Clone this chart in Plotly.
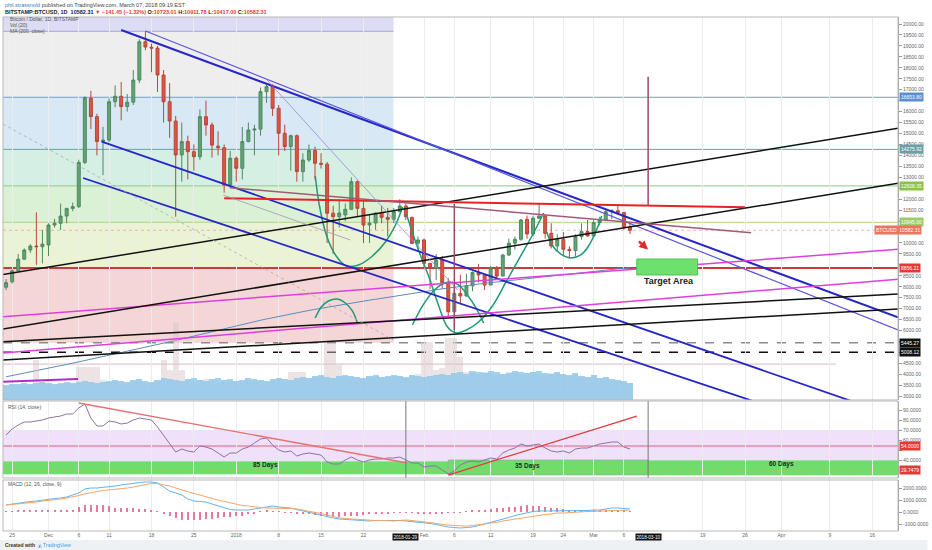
import pandas as pd
import plotly.graph_objects as go

# daily candles, Bitstamp BTC/USD
DATES = pd.date_range("2017-11-24", "2018-03-07", freq="D")

OPEN = [7980, 8230, 8730, 9260, 9680, 9860, 9830, 9910, 10820, 10900, 11230, 11580, 11660, 13680,
        16610, 15770, 14630, 14700, 16450, 16700, 16230, 16430, 17440, 19190, 18940, 18900, 17670,
        16450, 15570, 14020, 14630, 14170, 13940, 15770, 15390, 14420, 14350, 12650, 13870, 13410,
        14630, 15160, 15200, 16910, 17140, 16150, 15010, 14400, 14900, 13260, 13790, 14220, 13640,
        13600, 11360, 11200, 11280, 11540, 12800, 11580, 10820, 10910, 11390, 11170, 11080, 11430,
        11690, 11170, 9985, 10140, 9070, 8840, 9220, 8190, 6860, 7700, 7580, 8040, 8650, 8540, 8080,
        8840, 8490, 9450, 9990, 10170, 11080, 10410, 11130, 11230, 10440, 9860, 10170, 9710, 9650,
        10290, 10520, 10320, 10930, 11050, 11430, 11470, 11390, 10723.01]
HIGH = [8350, 8800, 9500, 9750, 9950, 11400, 10600, 10900, 11100, 11800, 11600, 11850, 13800, 16700,
        16950, 15900, 15300, 16600, 17200, 17350, 16800, 17900, 19300, 19666, 19100, 19000, 17900,
        17300, 15800, 15500, 14900, 14500, 16100, 16500, 15500, 15100, 14500, 14200, 13950, 15300,
        15500, 15400, 17100, 17250, 17250, 16300, 15400, 14950, 14950, 14100, 14500, 14400, 14100,
        13700, 11700, 12000, 11800, 13000, 12850, 11900, 11300, 11400, 11700, 11600, 11600, 12000,
        11800, 11200, 10300, 10200, 9100, 9500, 9400, 8400, 7900, 8550, 8600, 8700, 9050, 8550, 8950,
        8950, 9500, 10200, 10300, 11100, 11250, 11250, 11800, 11300, 10900, 10400, 10500, 9850, 10400,
        10900, 11050, 11050, 11200, 11500, 11550, 11700, 11420, 10911.78]
LOW = [7850, 8150, 8700, 9250, 9550, 9000, 9070, 9400, 10700, 10600, 10900, 11450, 11600, 13600,
       15200, 14000, 13100, 14600, 16200, 15600, 16000, 16300, 17300, 18800, 17800, 16900, 15500,
       14800, 11200, 12800, 12900, 13300, 13800, 14900, 13900, 14000, 12300, 12500, 12800, 12900,
       14600, 14000, 14900, 16400, 15800, 14000, 14200, 13300, 12800, 12800, 13700, 12900, 13400,
       10000, 9500, 10700, 11000, 11500, 11200, 10000, 10000, 10600, 10900, 10300, 10900, 11400,
       11050, 9950, 9700, 8800, 7900, 8300, 7900, 6650, 5900, 7200, 7550, 7800, 8200, 7850, 8080,
       8350, 8490, 9400, 9700, 10100, 10200, 10300, 11100, 10200, 9750, 9600, 9400, 9300, 9400,
       10150, 10300, 10250, 10800, 11000, 11100, 11350, 10600, 10417.00]
CLOSE = [8190, 8730, 9260, 9680, 9860, 9830, 9950, 10820, 10900, 11230, 11580, 11660, 13680, 16630,
         15770, 14630, 14700, 16450, 16700, 16230, 16430, 17440, 19190, 18950, 18900, 17670, 16450,
         15570, 14020, 14630, 14170, 13940, 15770, 15390, 14470, 14350, 12650, 13870, 13410, 14630,
         15160, 15200, 16910, 17140, 16150, 15010, 14400, 14900, 13260, 13790, 14220, 13640, 13600,
         11360, 11200, 11370, 11540, 12800, 11580, 10820, 10910, 11360, 11170, 11080, 11430, 11690,
         11200, 9985, 10140, 9070, 8840, 9220, 8190, 6860, 7700, 7580, 8040, 8650, 8540, 8080, 8840,
         8490, 9450, 9990, 10170, 11050, 10410, 11130, 11230, 10440, 9860, 10170, 9710, 9650, 10290,
         10520, 10320, 10930, 11050, 11430, 11470, 11390, 10723, 10582.31]

# volume (thousand BTC) and its 20-day average
VOLUME = [14, 15, 15, 16, 15, 40, 18, 16, 15, 16, 17, 17, 33, 33, 33, 33,
          20, 18, 19, 18, 17, 19, 20, 18, 17, 19, 40, 30, 77, 30, 20, 18, 20, 21, 19, 18, 20, 19, 18,
          19, 21, 20, 19, 18, 20, 21, 20, 28, 28,
          28, 22, 23, 24, 57, 57, 35, 24, 23, 22, 21, 23, 24, 22, 23, 24, 23, 22, 24, 26, 58, 58, 30,
          32, 62,
          62, 43, 28, 27, 26, 28, 27, 25, 26, 28, 27, 26, 27, 28, 26, 25, 27, 26,
          25, 24, 26, 23, 22, 24, 21, 22, 20, 19, 18, 17]
VOLUME_MA = [15, 16, 16, 17, 16, 17, 18, 17, 16, 17, 18, 17, 18, 19, 18, 17,
             18, 19, 20, 19, 18, 20, 21, 19, 18, 20, 22, 21, 20, 19, 21, 22, 20, 19, 21, 22, 20, 21,
             19, 20, 22, 21, 20, 19, 21, 22, 21, 20, 22,
             23, 22, 24, 25, 23, 22, 24, 25, 24, 23, 22, 24, 25, 23, 24, 25, 24, 23, 25, 24, 23, 24,
             25, 26, 25,
             27, 28, 26, 29, 28, 27, 29, 28, 26, 27, 29, 28, 27, 28, 29, 27, 26, 28,
             26, 25, 27, 24, 23, 25, 22, 23, 21, 20, 19, 17]

MA200 = [3890, 3950, 4000, 4060, 4110, 4170, 4230, 4290, 4340, 4400, 4450, 4510, 4560, 4620, 4680,
         4740, 4800, 4860, 4920, 4980, 5040, 5100, 5160, 5220, 5290, 5350, 5420, 5480, 5550, 5620,
         5680, 5750, 5820, 5880, 5950, 6010, 6080, 6150, 6210, 6280, 6340, 6410, 6470, 6530, 6590,
         6650, 6710, 6770, 6820, 6870, 6920, 6970, 7020, 7070, 7120, 7160, 7210, 7250, 7300, 7340,
         7390, 7430, 7470, 7520, 7560, 7600, 7650, 7690, 7740, 7780, 7820, 7870, 7910, 7950, 7990,
         8020, 8060, 8090, 8120, 8160, 8190, 8220, 8260, 8290, 8320, 8360, 8390, 8420, 8460, 8490,
         8520, 8550, 8580, 8600, 8630, 8660, 8680, 8710, 8740, 8770, 8790, 8820, 8840, 8870]

RSI = [65, 71, 75, 78, 78, 79, 80, 82, 83, 84, 86, 86, 92, 96, 82, 74, 74, 79, 78, 76, 77, 80, 82,
       81, 80, 73, 65, 57, 48, 51, 49, 48, 54, 53, 51, 47, 43, 47, 47, 51, 53, 57, 61, 62, 55, 50,
       48, 49, 44, 46, 47, 46, 45, 38, 36, 36, 40, 43, 40, 38, 40, 41, 41, 42, 42, 43, 40, 37, 37,
       33, 34, 34, 30, 26, 29, 35, 38, 39, 38, 40, 42, 41, 47, 50, 52, 56, 54, 55, 56, 52, 49, 48,
       49, 47, 51, 52, 52, 54, 56, 57, 58, 58, 53, 51]

MACD = [583, 667, 750, 833, 875, 917, 1000, 1083, 1125, 1167, 1250, 1417, 1583, 1917, 2000, 2000,
        2042, 2083, 2167, 2250, 2333, 2417, 2458, 2500, 2500, 2417, 2083, 1750, 1583, 1417, 1083,
        917, 875, 833, 667, 500, 333, 208, 167, 167, 167, 250, 333, 417, 500, 417, 375, 333, 208,
        83, -42, -167, -292, -417, -500, -583, -625, -667, -708, -750, -750, -708, -708, -667, -667,
        -708, -750, -792, -833, -875, -958, -1042, -1167, -1250, -1292, -1333, -1292, -1250, -1125,
        -1000, -875, -750, -625, -458, -292, -167, -42, 42, 83, 83, 83, 83, 83, 83, 83, 83, 125, 167,
        167, 250, 333, 333, 292, 250]
SIGNAL = [583, 625, 667, 708, 792, 833, 917, 958, 1000, 1083, 1167, 1250, 1375, 1500, 1625, 1708,
          1792, 1833, 1917, 1958, 2000, 2083, 2167, 2292, 2375, 2375, 2292, 2167, 2000, 1833, 1667,
          1542, 1417, 1250, 1125, 1000, 875, 750, 625, 542, 500, 417, 375, 333, 333, 333, 333, 292,
          250, 167, 83, 0, -125, -250, -375, -500, -542, -583, -625, -667, -667, -708, -708, -750,
          -750, -708, -667, -708, -750, -833, -875, -958, -1042, -1083, -1125, -1167, -1167, -1125,
          -1083, -1000, -917, -875, -750, -667, -583, -500, -417, -333, -250, -208, -167, -83, -83,
          -42, -42, 0, 42, 42, 83, 83, 125, 125, 167, 167]
HIST = [50, 80, 100, 120, 120, 130, 150, 150, 150, 160, 180, 200,
        450, 550, 600, 600, 550, 500,
        350, 300, 300, 300, 280, 250, 200,
        50, -100,
        -300, -500, -650, -700, -700, -650, -600, -550,
        -500, -450, -400, -350, -300, -200, -100,
        50, 100, 80, 40, -20,
        -60, -100, -150, -200, -250,
        -300, -350, -380, -380, -350, -320, -300,
        -250, -200, -150, -120, -100, -80,
        -60, -60, -80, -100, -100, -120, -120, -100, -80,
        -50, -20, 40, 100, 150, 200, 250, 300,
        350, 400, 450, 500, 550, 520, 500, 450,
        350, 300, 250, 200, 200, 180, 150, 150,
        150, 160, 170, 150, 120, 80]

for series in (OPEN, HIGH, LOW, CLOSE, VOLUME, VOLUME_MA, MA200, RSI, MACD, SIGNAL, HIST):
    assert len(series) == len(DATES), len(series)

# axis ranges and ticks
X_RANGE = ["2017-11-23 11:45", "2018-04-20 06:00"]
PRICE_RANGE = [2831, 20320]
VOL_RANGE = [0, 383]
RSI_RANGE = [22, 99]
MACD_RANGE = [-1583, 2667]
PRICE_TICKS = list(range(3000, 20001, 500))
PRICE_TICKS_HIDDEN = [5000, 5500, 9000, 10500, 11000, 12500, 16500]  # covered by marker boxes
RSI_TICKS = [40, 50, 60, 70, 80, 90]
RSI_TICKS_HIDDEN = [50]
MACD_TICKS = [-1000, 0, 1000, 2000]
DATE_TICKS = ["2017-11-25", "2017-12-01", "2017-12-06", "2017-12-11", "2017-12-18", "2017-12-25",
              "2018-01-01", "2018-01-08", "2018-01-15", "2018-01-22", "2018-02-01", "2018-02-06",
              "2018-02-12", "2018-02-19", "2018-02-24", "2018-03-01", "2018-03-06", "2018-03-19",
              "2018-03-26", "2018-04-01", "2018-04-09", "2018-04-16"]
DATE_LABELS = ["25", "Dec", "6", "11", "18", "25", "2018", "8", "15", "22", "Feb", "6", "12", "19",
               "24", "Mar", "6", "19", "26", "Apr", "9", "16"]
MARKED_DATES = ["2018-01-29", "2018-03-10"]

# fibonacci retracement (left block) and price levels
FIB_END = "2018-01-26 23:00"
FIB_LEVELS = [20320, 19666, 16653.80, 14275.92, 12608.35, 10945.00, 8856.21, 5445.27]
LEVELS = [16653.80, 14275.92, 12608.35, 10945.00, 8856.21]
DASHED_LEVELS = [5445.27, 5008.12]
LAST_PRICE = 10582.31
LOW_RULE = (4470, "2018-04-10")

# hand-drawn trend lines: (x0, y0, x1, y1)
TREND_LINES = {
    "channel_top_a": ("2017-12-13", 19726, "2018-04-20 06:00", 6603),
    "channel_top_b": ("2017-12-17", 19680, "2018-04-20 06:00", 6027),
    "channel_low_c": ("2017-12-09 19:00", 14626, "2018-04-13", 2740),
    "channel_low_d": ("2017-12-06 17:00", 12968, "2018-03-27 19:00", 2740),
    "pink_e": ("2017-11-23 11:45", 6635, "2018-04-20 06:00", 9712),
    "pink_f": ("2017-11-23 11:45", 4977, "2018-04-20 06:00", 8342),
    "pink_g": ("2017-11-23 11:45", 3667, "2017-12-05 21:00", 3790),
    "black_h": ("2017-11-23 11:45", 8562, "2018-04-20 06:00", 15237),
    "black_i": ("2017-11-23 11:45", 6073, "2018-04-20 06:00", 12726),
    "black_j": ("2017-11-23 11:45", 5493, "2018-04-20 06:00", 7671),
    "black_k": ("2017-11-23 11:45", 4658, "2018-04-20 06:00", 6986),
    "resistance": ("2017-12-30", 12041, "2018-03-26", 11630),
    "mauve": ("2017-12-31", 12525, "2018-03-27", 10470),
    "thin_purple": ("2018-01-06 02:00", 17443, "2018-02-06 13:00", 7854),
    "thin_gray": ("2017-12-29 20:00", 12192, "2018-01-19 20:00", 10137),
    "dotted_gray": ("2017-11-23 11:45", 15434, "2018-01-26 23:00", 5571),
    "vert_feb": ("2018-02-06", 11781, "2018-02-06", 6027),
    "vert_mar": ("2018-03-10", 17594, "2018-03-10", 11703),
}
LINE_STYLE = {
    "channel_top_a": ("#2626c9", 2, "solid"),
    "channel_top_b": ("#5b55dd", 1.2, "solid"),
    "channel_low_c": ("#2626c9", 1.8, "solid"),
    "channel_low_d": ("#2626c9", 1.8, "solid"),
    "pink_e": ("#e03ee0", 1.5, "solid"),
    "pink_f": ("#e03ee0", 1.5, "solid"),
    "pink_g": ("#b02ad0", 2, "solid"),
    "black_h": ("#111111", 1.5, "solid"),
    "black_i": ("#111111", 1.5, "solid"),
    "black_j": ("#111111", 1.5, "solid"),
    "black_k": ("#111111", 1.5, "solid"),
    "resistance": ("#e82222", 2, "solid"),
    "mauve": ("#a3587a", 1.5, "solid"),
    "thin_purple": ("#9a86dc", 0.8, "solid"),
    "thin_gray": ("#a393b8", 0.8, "solid"),
    "dotted_gray": ("#aaaaaa", 0.8, "dot"),
    "vert_feb": ("#9b4a6a", 1.5, "solid"),
    "vert_mar": ("#9b4a6a", 1.5, "solid"),
}

# cup / cap curves
ARCS = {
    "a": (["2018-01-14 01:00", "2018-01-14 17:00", "2018-01-15 21:00", "2018-01-17 09:00",
           "2018-01-19 04:00", "2018-01-21 04:00", "2018-01-23 07:00", "2018-01-25 15:00",
           "2018-01-27 07:00", "2018-01-28 11:00"],
          [13059, 11735, 10366, 9453, 8950, 8996, 9361, 10046, 10822, 11644]),
    "b": (["2018-01-29 02:00", "2018-01-31 02:00", "2018-02-01 18:00", "2018-02-03 09:00",
           "2018-02-04 21:00", "2018-02-06 09:00", "2018-02-08 00:00", "2018-02-10 00:00",
           "2018-02-12 07:00", "2018-02-14 15:00", "2018-02-16 23:00", "2018-02-19 02:00",
           "2018-02-20 18:00"],
          [11325, 9681, 8494, 7169, 6165, 5891, 6028, 6393, 7124, 8265, 9407, 10457, 11370]),
    "c": (["2018-01-30 02:00", "2018-01-31 18:00", "2018-02-02 10:00", "2018-02-04 01:00",
           "2018-02-05 09:00", "2018-02-06 17:00", "2018-02-08 04:00", "2018-02-09 16:00",
           "2018-02-10 20:00"],
          [6256, 7124, 7763, 8128, 8220, 8083, 7626, 6987, 6348]),
    "d": (["2018-01-14 01:00", "2018-01-15 01:00", "2018-01-16 05:00", "2018-01-17 17:00",
           "2018-01-19 00:00", "2018-01-20 04:00", "2018-01-21 00:00"],
          [6576, 7078, 7352, 7443, 7261, 6896, 6348]),
    "e": (["2018-02-21 06:00", "2018-02-22 06:00", "2018-02-23 13:00", "2018-02-25 05:00",
           "2018-02-26 21:00", "2018-02-28 04:00", "2018-03-01 08:00", "2018-03-02 08:00"],
          [10503, 9863, 9498, 9316, 9453, 9863, 10503, 11233]),
}

TARGET_BOX = ("2018-03-08 03:00", 8539, "2018-03-18 04:00", 9269)
TARGET_TEXT = ("2018-03-13 10:00", 8265, "Target Area")
ARROW = ("2018-03-08 05:30", 10137, "2018-03-09 23:30", 9699)

# RSI drawings
RSI_BAND = (30, 70)
RSI_LEVEL = 54
RSI_LOW_MARK = 29.7479
RSI_TRENDS = [("2017-12-06", 97, "2018-01-29 06:00", 37),
              ("2018-02-05", 25, "2018-03-08 03:00", 84)]
RSI_BOXES = [("2017-11-23 11:45", "2018-02-05", 26, 38.3),
             ("2018-02-05", "2018-03-10", 25, 40),
             ("2018-03-10", "2018-04-20 06:00", 25, 39.3)]
RSI_BOX_TEXT = [("2018-01-05 19:00", 34.7, "85 Days"),
                ("2018-02-18 02:00", 34, "35 Days"),
                ("2018-04-01 02:00", 35.7, "60 Days")]

FONT = "Liberation Sans, Arial, sans-serif"
RED = "#e53935"

fig = go.Figure()

fig.add_trace(go.Bar(x=DATES, y=VOLUME, xaxis="x", yaxis="y4", width=86400000,
                     marker=dict(color="#d6c3c6", line=dict(width=0)), opacity=0.45))
fig.add_trace(go.Bar(x=DATES, y=VOLUME_MA, xaxis="x", yaxis="y4", width=86400000,
                     marker=dict(color="#8cc7ea", line=dict(width=0)), opacity=0.8))
fig.add_trace(go.Scatter(x=DATES, y=MA200, mode="lines", line=dict(color="#5a8dba", width=1)))
fig.add_trace(go.Candlestick(
    x=DATES, open=OPEN, high=HIGH, low=LOW, close=CLOSE, whiskerwidth=0,
    increasing=dict(line=dict(color="#4e8a5f", width=1), fillcolor="#62a374"),
    decreasing=dict(line=dict(color="#b9473a", width=1), fillcolor="#e0533f"),
))
for xs, ys in ARCS.values():
    fig.add_trace(go.Scatter(x=xs, y=ys, mode="lines",
                             line=dict(color="#1e9a78", width=1.5, shape="spline")))

fig.add_trace(go.Scatter(x=DATES, y=RSI, mode="lines", xaxis="x2", yaxis="y2",
                         line=dict(color="#8a72a6", width=1)))
fig.add_trace(go.Bar(x=DATES, y=HIST, xaxis="x3", yaxis="y3", width=86400000 * 0.18,
                     marker=dict(color="#e8779d", line=dict(width=0))))
fig.add_trace(go.Scatter(x=DATES, y=MACD, mode="lines", xaxis="x3", yaxis="y3",
                         line=dict(color="#62b4ee", width=1)))
fig.add_trace(go.Scatter(x=DATES, y=SIGNAL, mode="lines", xaxis="x3", yaxis="y3",
                         line=dict(color="#f3a56a", width=1)))

shapes = []

# fib zone fills
zone_colors = ["#dcdcf4", "#eeeeee", "#d8e8f5", "#d6efe4", "#dbf1d6", "#eaf4d4", "#f5d6d6"]
for i, col in enumerate(zone_colors):
    shapes.append(dict(type="rect", xref="x", yref="y", x0=X_RANGE[0], x1=FIB_END,
                       y0=FIB_LEVELS[i + 1], y1=FIB_LEVELS[i], fillcolor=col,
                       line=dict(width=0), layer="below"))
shapes.append(dict(type="line", xref="x", yref="y", x0=X_RANGE[0], x1=FIB_END,
                   y0=FIB_LEVELS[1], y1=FIB_LEVELS[1], line=dict(color="#a3a3d9", width=1),
                   layer="below"))
level_colors = ["#6f9fd0", "#6aa0a3", "#8cc88c", "#b2d27f", "#cc3b3b"]
level_widths = [1, 1, 1, 1, 2]
for lv, col, w in zip(LEVELS, level_colors, level_widths):
    shapes.append(dict(type="line", xref="x", yref="y", x0=X_RANGE[0], x1=X_RANGE[1],
                       y0=lv, y1=lv, line=dict(color=col, width=w), layer="below"))
for lv, col in zip(DASHED_LEVELS, ["#8c8c8c", "#111111"]):
    shapes.append(dict(type="line", xref="x", yref="y", x0=X_RANGE[0], x1=X_RANGE[1],
                       y0=lv, y1=lv, line=dict(color=col, width=1.5, dash="dash"), layer="below"))
shapes.append(dict(type="line", xref="x", yref="y", x0=X_RANGE[0], x1=X_RANGE[1],
                   y0=LAST_PRICE, y1=LAST_PRICE, line=dict(color="#f2a0a0", width=0.8, dash="dot"),
                   layer="below"))
shapes.append(dict(type="line", xref="x", yref="y", x0=X_RANGE[0], x1=LOW_RULE[1],
                   y0=LOW_RULE[0], y1=LOW_RULE[0], line=dict(color="#d9a3ab", width=0.8),
                   layer="below"))

for name, (x0, y0, x1, y1) in TREND_LINES.items():
    col, w, dash = LINE_STYLE[name]
    shapes.append(dict(type="line", xref="x", yref="y", x0=x0, y0=y0, x1=x1, y1=y1,
                       line=dict(color=col, width=w, dash=dash), layer="above"))

tx0, ty0, tx1, ty1 = TARGET_BOX
shapes.append(dict(type="rect", xref="x", yref="y", x0=tx0, x1=tx1, y0=ty0, y1=ty1,
                   fillcolor="#6ee06e", line=dict(color="#52c052", width=1), layer="above"))

# RSI pane
shapes.append(dict(type="rect", xref="x2", yref="y2", x0=X_RANGE[0], x1=X_RANGE[1],
                   y0=RSI_BAND[0], y1=RSI_BAND[1], fillcolor="#efe1fa", line=dict(width=0),
                   layer="below"))
for i, (x0, x1, y0, y1) in enumerate(RSI_BOXES):
    shapes.append(dict(type="rect", xref="x2", yref="y2", x0=x0, x1=x1, y0=y0, y1=y1,
                       fillcolor="#6edd6e",
                       line=dict(color="#9a9a9a" if i == 1 else "#6edd6e", width=0.6),
                       layer="below"))
shapes.append(dict(type="line", xref="x2", yref="y2", x0=X_RANGE[0], x1=X_RANGE[1],
                   y0=RSI_LOW_MARK, y1=RSI_LOW_MARK,
                   line=dict(color="#b3c93a", width=1, dash="dot"), layer="below"))
shapes.append(dict(type="line", xref="x2", yref="y2", x0=X_RANGE[0], x1=X_RANGE[1],
                   y0=RSI_LEVEL, y1=RSI_LEVEL, line=dict(color="#e0607a", width=1), layer="below"))
for (x0, y0, x1, y1), col in zip(RSI_TRENDS, ["#ea7070", "#e43a3a"]):
    shapes.append(dict(type="line", xref="x2", yref="y2", x0=x0, y0=y0, x1=x1, y1=y1,
                       line=dict(color=col, width=1.3), layer="above"))
for d in MARKED_DATES:
    shapes.append(dict(type="line", xref="x2", yref="y2 domain", x0=d, x1=d, y0=0, y1=1,
                       line=dict(color="#777777", width=1), layer="above"))

# pane frames and footer band
for yd in ["y domain", "y2 domain", "y3 domain"]:
    shapes.append(dict(type="rect", xref="paper", yref=yd, x0=0, x1=1, y0=0, y1=1,
                       line=dict(color="#b8b8b8", width=1), layer="above"))
shapes.append(dict(type="rect", xref="paper", yref="paper", x0=-0.004, x1=1.033,
                   y0=-0.037, y1=-0.0175, fillcolor="#eef1f4", line=dict(width=0), layer="below"))

annotations = []


def label(x, y, text, size=5, color="#555", xref="paper", yref="paper", **kw):
    annotations.append(dict(x=x, y=y, xref=xref, yref=yref, text=text, showarrow=False,
                            font=dict(family=FONT, size=size, color=color), **kw))


label(0, 1.0243,
      "<span style='color:#3b82c4'>phil.strassnold</span> published on TradingView.com, "
      "March 07, 2018 09:19 EST", size=5.5, color="#444", xanchor="left", yanchor="middle")
label(0, 1.0107,
      "<b>BITSTAMP:BTCUSD, 1D  10582.31 <span style='color:%s'>▼ −141.45 (−1.32%%)</span> "
      "O:<span style='color:%s'>10723.01</span> H:<span style='color:%s'>10911.78</span> "
      "L:<span style='color:%s'>10417.00</span> C:<span style='color:%s'>10582.31</span></b>"
      % (RED, RED, RED, RED, RED), size=5.5, color="#222", xanchor="left", yanchor="middle")
label(0.006, 0.9961, "Bitcoin / Dollar, 1D, BITSTAMP", xanchor="left", yanchor="middle")
label(0.006, 0.9846, "Vol (20)", xanchor="left", yanchor="middle")
label(0.006, 0.9735, "MA (200, close)", xanchor="left", yanchor="middle")
label(0.003, 0.2412, "RSI (14, close)", xanchor="left", yanchor="middle")
label(0.003, 0.0914, "MACD (12, 26, close, 9)", xanchor="left", yanchor="middle")
label(0, -0.0272, "<b>Created with</b>  <span style='color:#3aa0e6'>◭ TradingView</span>",
      color="#333", xanchor="left", yanchor="middle")

# price-axis marker boxes
box_colors = ["#5d8fcf", "#6a9fa3", "#8bc34a", "#9ccc65", RED]
for lv, col in zip(LEVELS, box_colors):
    label(1, lv, "%.2f" % lv, size=5, color="white", yref="y", xanchor="left", xshift=1,
          yanchor="middle", bgcolor=col, borderpad=1)
for lv in DASHED_LEVELS:
    label(1, lv, "%.2f" % lv, size=5, color="white", yref="y", xanchor="left", xshift=1,
          yanchor="middle", bgcolor="#111111", borderpad=1)
label(1, LAST_PRICE, "BTCUSD  %.2f" % LAST_PRICE, size=5, color="white", yref="y",
      xanchor="center", xshift=0, yanchor="middle", bgcolor="#ea7560", borderpad=1)
label(1, RSI_LEVEL, "%.4f" % RSI_LEVEL, size=5, color="white", yref="y2", xanchor="left",
      xshift=1, yanchor="middle", bgcolor=RED, borderpad=1)
label(1, RSI_LOW_MARK, "%.4f" % RSI_LOW_MARK, size=5, color="white", yref="y2",
      xanchor="left", xshift=1, yanchor="middle", bgcolor=RED, borderpad=1)

for d in MARKED_DATES:
    label(d, -0.0117, d, size=4.6, color="white", xref="x", yanchor="middle",
          bgcolor="#111111", borderpad=0.5)

label(TARGET_TEXT[0], TARGET_TEXT[1], "<b>%s</b>" % TARGET_TEXT[2], size=9, color="#222",
      xref="x", yref="y", yanchor="middle")
for x, y, t in RSI_BOX_TEXT:
    label(x, y, "<b>%s</b>" % t, size=6.5, color="#1d2b1d", xref="x2", yref="y2",
          yanchor="middle")

ax, ay, hx, hy = ARROW
annotations.append(dict(x=hx, y=hy, ax=ax, ay=ay, xref="x", yref="y", axref="x", ayref="y",
                        text="", showarrow=True, arrowhead=2, arrowsize=0.7, arrowwidth=2.5,
                        arrowcolor="#e02b2b"))

axis_font = dict(family=FONT, size=5, color="#666")
grid = dict(showgrid=True, gridcolor="#ececec", gridwidth=1, zeroline=False,
            tickvals=DATE_TICKS)
price_text = ["" if v in PRICE_TICKS_HIDDEN else "%.2f" % v for v in PRICE_TICKS]
rsi_text = ["" if v in RSI_TICKS_HIDDEN else "%.4f" % v for v in RSI_TICKS]

fig.update_layout(
    width=932, height=550,
    margin=dict(l=3, r=29, t=17, b=19),
    paper_bgcolor="white", plot_bgcolor="white",
    showlegend=False, hovermode=False,
    barmode="overlay", bargap=0,
    font=dict(family=FONT, size=6, color="#444"),
    xaxis=dict(type="date", range=X_RANGE, domain=[0, 1], anchor="y", showticklabels=False,
               rangeslider=dict(visible=False), **grid),
    xaxis2=dict(type="date", matches="x", anchor="y2", showticklabels=False, **grid),
    xaxis3=dict(type="date", matches="x", anchor="y3", ticktext=DATE_LABELS, ticks="",
                tickfont=axis_font, **grid),
    yaxis=dict(domain=[0.2549, 1], range=PRICE_RANGE, side="right", anchor="x",
               tickvals=PRICE_TICKS, ticktext=price_text,
               tickfont=axis_font, ticks="outside", ticklen=3, tickcolor="#999",
               showgrid=False, zeroline=False, showline=True, linecolor="#a0a0a0"),
    yaxis4=dict(overlaying="y", range=VOL_RANGE, visible=False, side="left"),
    yaxis2=dict(domain=[0.1031, 0.2529], range=RSI_RANGE, side="right", anchor="x2",
                tickvals=RSI_TICKS, ticktext=rsi_text,
                tickfont=axis_font, ticks="outside", ticklen=3, tickcolor="#999",
                showgrid=False, zeroline=False, showline=True, linecolor="#a0a0a0"),
    yaxis3=dict(domain=[0, 0.0992], range=MACD_RANGE, side="right", anchor="x3",
                tickvals=MACD_TICKS, ticktext=["%.4f" % v for v in MACD_TICKS],
                tickfont=axis_font, ticks="outside", ticklen=3, tickcolor="#999",
                showgrid=False, zeroline=False, showline=True, linecolor="#a0a0a0"),
    shapes=shapes,
    annotations=annotations,
)

# the page's default body margin would shift the whole figure by 8px
fig.write_html("out.html", config={"displayModeBar": False},
               post_script="document.body.style.margin='0';")
